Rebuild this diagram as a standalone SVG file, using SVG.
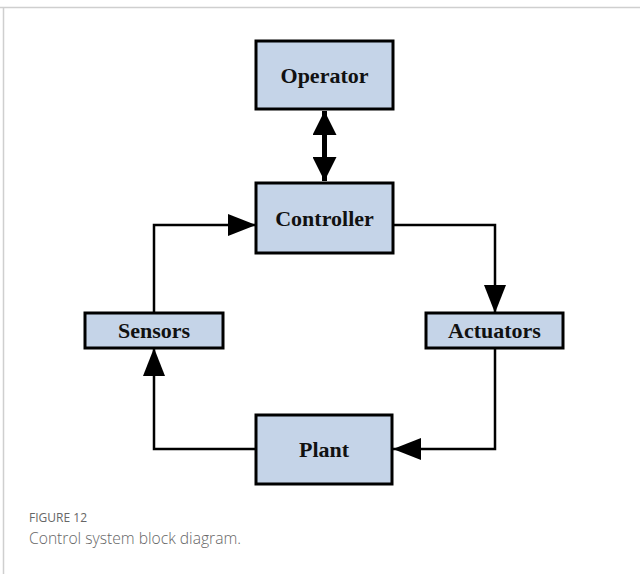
<svg xmlns="http://www.w3.org/2000/svg" width="640" height="574" viewBox="0 0 640 574">
<style>
.box{fill:#c5d4e8;stroke:#000;stroke-width:3}
.lbl{font-family:"Liberation Serif","Times New Roman",serif;font-weight:bold;font-size:22px;fill:#111;text-anchor:middle}
.conn{fill:none;stroke:#000;stroke-width:2.5}
.frame{stroke:#cfcfcf;stroke-width:1.5;fill:none}
</style>
<defs>
<marker id="ah" markerUnits="userSpaceOnUse" viewBox="0 0 28 22" refX="28" refY="11" markerWidth="28" markerHeight="22" orient="auto">
<path d="M0,0 L28,11 L0,22 Z" fill="#000"/>
</marker>
<marker id="ahb" markerUnits="userSpaceOnUse" viewBox="0 0 24 24" refX="24" refY="12" markerWidth="24" markerHeight="24" orient="auto-start-reverse">
<path d="M0,0 L24,12 L0,24 Z" fill="#000"/>
</marker>
</defs>
<rect width="640" height="574" fill="#fff"/>
<path class="frame" d="M0,7.5 H640 M3.5,7.5 V574"/>
<g id="connectors">
<line x1="324.5" y1="111" x2="324.5" y2="181" stroke="#000" stroke-width="5" marker-start="url(#ahb)" marker-end="url(#ahb)"/>
<path class="conn" d="M393,225 H495 V313" marker-end="url(#ah)"/>
<path class="conn" d="M495,348 V449 H393" marker-end="url(#ah)"/>
<path class="conn" d="M256,449 H154 V348" marker-end="url(#ah)"/>
<path class="conn" d="M154,313 V225 H256" marker-end="url(#ah)"/>
</g>
<g id="operator">
<rect class="box" x="256" y="41" width="137" height="68"/>
<text class="lbl" x="324.5" y="83">Operator</text>
</g>
<g id="controller">
<rect class="box" x="256" y="183" width="137" height="70"/>
<text class="lbl" x="324.5" y="226">Controller</text>
</g>
<g id="sensors">
<rect class="box" x="85" y="313" width="138" height="35"/>
<text class="lbl" x="154" y="338">Sensors</text>
</g>
<g id="actuators">
<rect class="box" x="426" y="313" width="137" height="35"/>
<text class="lbl" x="494.5" y="338">Actuators</text>
</g>
<g id="plant">
<rect class="box" x="256" y="415" width="136" height="69"/>
<text class="lbl" x="324" y="457">Plant</text>
</g>
<g id="caption">
<text x="29" y="522" font-family="'Open Sans','Liberation Sans',sans-serif" font-size="13" fill="#666" textLength="58" lengthAdjust="spacingAndGlyphs">FIGURE 12</text>
<text x="29" y="544" font-family="'Open Sans','Liberation Sans',sans-serif" font-size="16" fill="#666" font-weight="300" textLength="212" lengthAdjust="spacingAndGlyphs">Control system block diagram.</text>
</g>
</svg>
